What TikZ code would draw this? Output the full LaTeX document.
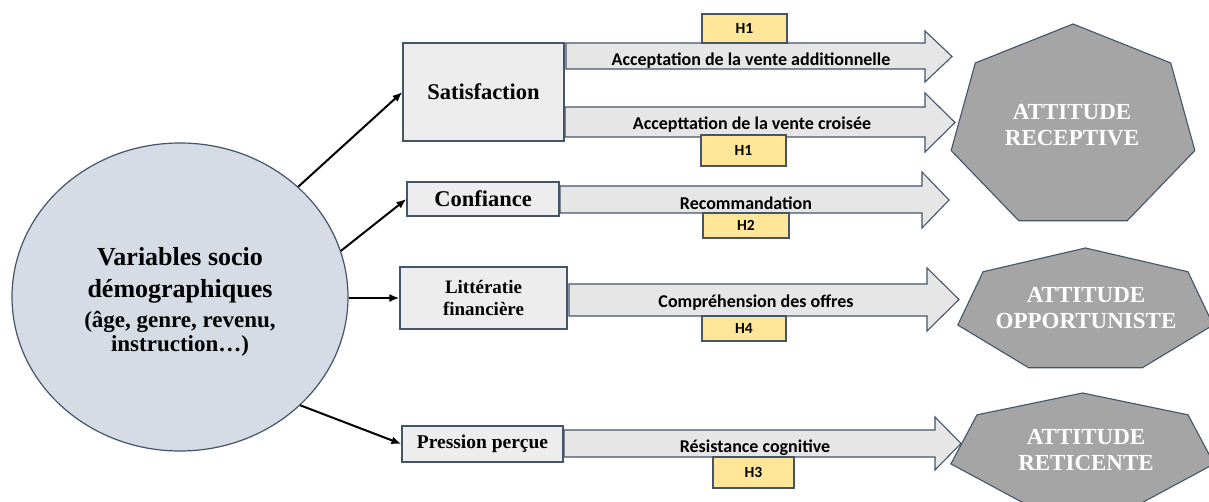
\documentclass[tikz,border=0pt]{standalone}
\usepackage{fontspec}
\setmainfont{Liberation Serif}
\newfontfamily\calib{Carlito}
\usetikzlibrary{arrows.meta,shapes.geometric}
\definecolor{edgec}{HTML}{44546A}
\definecolor{boxfill}{HTML}{EDEDED}
\definecolor{arrfill}{HTML}{E7E6E6}
\definecolor{hfill}{HTML}{FFE699}
\definecolor{heptfill}{HTML}{A5A5A5}
\definecolor{circfill}{HTML}{D6DCE5}
\newcommand\blockarr[7]{\draw[blockarrow] (#1,#4) -- (#2,#4) -- (#2,#6) -- (#3,{(#6+#7)/2}) -- (#2,#7) -- (#2,#5) -- (#1,#5) -- cycle;}
\newcommand\heptagon[4]{\draw[hept] plot[samples at={90,141.42857,192.85714,244.28571,295.71429,347.14286,398.57143}] ({#1+#3*cos(\x)},{#2-#4*sin(\x)}) -- cycle;}
\begin{document}
\begin{tikzpicture}[x=1pt,y=-1pt,
  varbox/.style={draw=edgec, line width=1.2pt, fill=boxfill, inner sep=0pt, align=center, font=\bfseries\fontsize{22.5}{26}\selectfont},
  hbox/.style={draw=edgec, line width=1.2pt, fill=hfill, inner sep=0pt, font=\calib\bfseries\fontsize{15.5}{18}\selectfont},
  blockarrow/.style={draw=edgec, line width=1.1pt, fill=arrfill, line join=miter},
  arrlabel/.style={font=\calib\bfseries\fontsize{18}{20}\selectfont, inner sep=0pt},
  hept/.style={draw=edgec, line width=1.1pt, fill=heptfill},
  hepttext/.style={text=white, font=\bfseries\fontsize{23}{26}\selectfont, align=center, inner sep=0pt},
  link/.style={line width=2pt, -{Latex[length=10pt,width=8pt]}}]
\useasboundingbox (0,0) rectangle (1209,502);
\clip (0,0) rectangle (1209,502);

% central ellipse
\node[ellipse, draw=edgec, line width=1.2pt, fill=circfill, minimum width=336pt, minimum height=308pt, inner sep=0pt] (v) at (180,297) {};
\node[align=center, inner sep=0pt, font=\bfseries\fontsize{26}{31}\selectfont] (vt) at (180,302) {Variables socio\\[1pt] démographiques\\[-1pt] {\fontsize{23}{24}\selectfont (âge, genre, revenu,}\\[-7pt] {\fontsize{23}{24}\selectfont instruction…)}};

% variable boxes
\node[varbox, minimum width=161pt, minimum height=98pt] (sat) at (483.5,92) {Satisfaction};
\node[varbox, minimum width=152pt, minimum height=34pt] (conf) at (483,199) {Confiance};
\node[varbox, minimum width=167pt, minimum height=62pt, font=\bfseries\fontsize{19}{22}\selectfont] (lit) at (483.5,298) {Littératie\\financière};
\node[varbox, minimum width=161pt, minimum height=36pt, font=\bfseries\fontsize{19.5}{22}\selectfont] (pres) at (482.5,444) {Pression perçue};

% links
\draw[link] (v.43) -- (sat.west);
\draw[link] (v.16) -- (conf.west);
\draw[link] (v.east |- lit.west) -- (lit.west);
\draw[link] (v.-42) -- (pres.west);

% block arrows
\blockarr{566}{925}{952}{43}{69}{31}{82}
\blockarr{565}{925}{955}{107}{137}{93}{152}
\blockarr{560}{922}{949}{186}{213}{172}{228}
\blockarr{569}{927}{959}{284}{316}{268}{331}
\blockarr{564}{935}{961}{430}{457}{417}{470}

\node[arrlabel] (l1) at (751,61) {Acceptation de la vente additionnelle};
\node[arrlabel] (l2) at (752,125) {Accepttation de la vente croisée};
\node[arrlabel] (l3) at (746,203) {Recommandation};
\node[arrlabel] (l4) at (756,303) {Compréhension des offres};
\node[arrlabel] (l5) at (755,448) {Résistance cognitive};

% hypothesis labels
\node[hbox, minimum width=85pt, minimum height=29pt] (h1a) at (744.5,28.5) {H1};
\node[hbox, minimum width=85pt, minimum height=31pt] (h1b) at (743.5,150.5) {H1};
\node[hbox, minimum width=86pt, minimum height=25pt] (h2) at (746,225.5) {H2};
\node[hbox, minimum width=84pt, minimum height=25pt] (h4) at (744,328.5) {H4};
\node[hbox, minimum width=81pt, minimum height=31pt] (h3) at (753.5,472.5) {H3};

% heptagons
\heptagon{1073}{127.5}{125}{103.5}
\heptagon{1085.5}{311}{131}{63}
\heptagon{1082.5}{451}{135}{58}
\node[hepttext] (a1) at (1072,125) {ATTITUDE\\RECEPTIVE};
\node[hepttext] (a2) at (1086,308.5) {ATTITUDE\\OPPORTUNISTE};
\node[hepttext] (a3) at (1086,450.5) {ATTITUDE\\RETICENTE};
\end{tikzpicture}
\end{document}
